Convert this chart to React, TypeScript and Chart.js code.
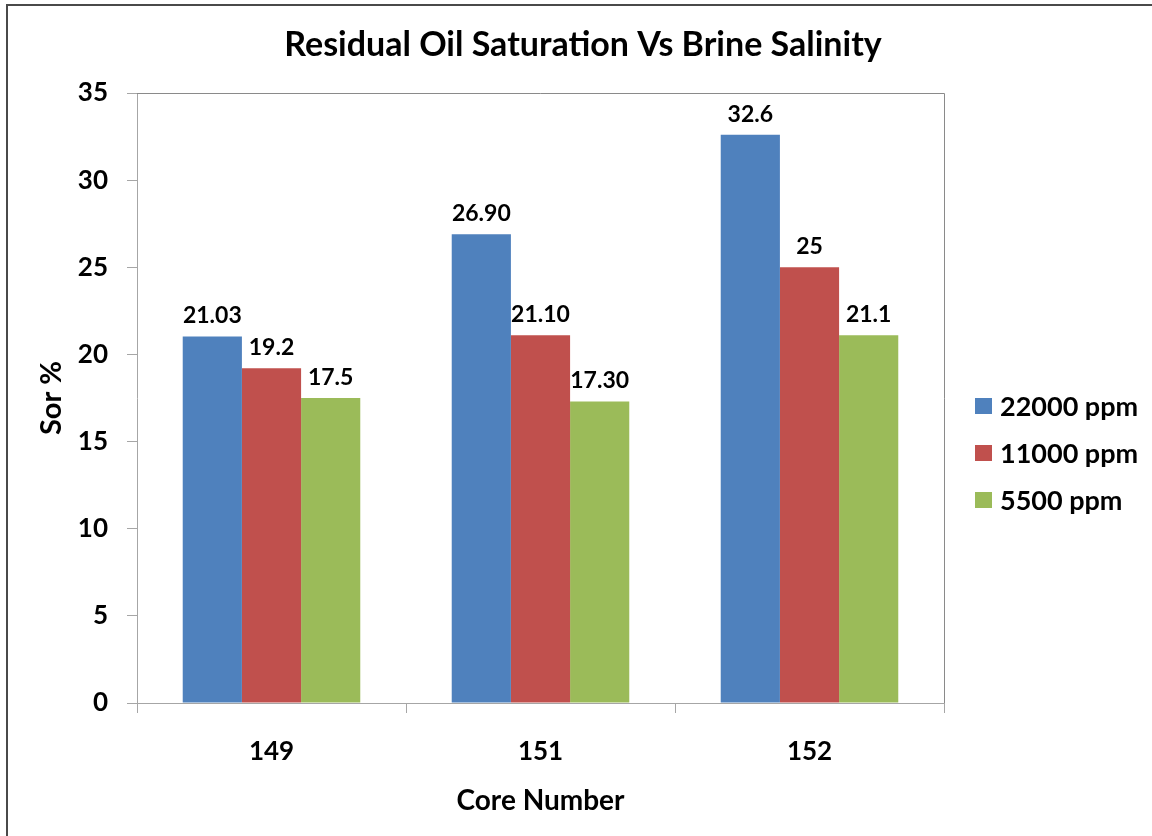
import React, { useEffect, useRef } from "react";
import { Chart, registerables } from "chart.js";

Chart.register(...registerables);

const categories = ["149", "151", "152"];
const seriesNames = ["22000 ppm", "11000 ppm", "5500 ppm"];
const sor22000 = [21.03, 26.9, 32.6];
const sor11000 = [19.2, 21.1, 25];
const sor5500 = [17.5, 17.3, 21.1];
const labels22000 = ["21.03", "26.90", "32.6"];
const labels11000 = ["19.2", "21.10", "25"];
const labels5500 = ["17.5", "17.30", "21.1"];
const yTicks = [0, 5, 10, 15, 20, 25, 30, 35];

const colors = ["#4F81BD", "#C0504D", "#9BBB59"];
const FONT = "Lato, 'Open Sans', sans-serif";
const W = 1152;
const H = 836;

const valueLabels = [labels22000, labels11000, labels5500];

// Frame, plot-area border, value labels, title and legend.
const decorations = {
  id: "decorations",
  beforeDatasetsDraw(chart: any) {
    const { ctx, chartArea } = chart;
    ctx.save();
    ctx.strokeStyle = "#8a8a8a";
    ctx.lineWidth = 1;
    ctx.beginPath();
    ctx.moveTo(chartArea.left, chartArea.top + 0.5);
    ctx.lineTo(chartArea.right + 0.5, chartArea.top + 0.5);
    ctx.lineTo(chartArea.right + 0.5, chartArea.bottom);
    ctx.stroke();
    ctx.restore();
  },
  afterDraw(chart: any) {
    const { ctx } = chart;
    ctx.save();
    // outer frame
    ctx.strokeStyle = "#4a4a4a";
    ctx.lineWidth = 2;
    ctx.strokeRect(7, 5, W, H);

    // value labels above bars
    ctx.fillStyle = "#000";
    ctx.font = `bold 23px ${FONT}`;
    ctx.textAlign = "center";
    ctx.textBaseline = "alphabetic";
    chart.data.datasets.forEach((_: any, di: number) => {
      const meta = chart.getDatasetMeta(di);
      meta.data.forEach((bar: any, i: number) => {
        ctx.fillText(valueLabels[di][i], bar.x, bar.y - 13);
      });
    });

    // title
    ctx.font = `bold 34px ${FONT}`;
    ctx.fillText("Residual Oil Saturation Vs Brine Salinity", 583, 56);

    // legend
    ctx.font = `bold 27px ${FONT}`;
    ctx.textAlign = "left";
    ctx.textBaseline = "middle";
    seriesNames.forEach((name, i) => {
      const cy = 406 + i * 47;
      ctx.fillStyle = colors[i];
      ctx.fillRect(975, cy - 8, 17, 16);
      ctx.fillStyle = "#000";
      ctx.fillText(name, 1000, cy + 1);
    });
    ctx.restore();
  },
};

export default function App() {
  const canvasRef = useRef<HTMLCanvasElement | null>(null);

  useEffect(() => {
    const canvas = canvasRef.current;
    if (!canvas) return;
    const chart = new Chart(canvas, {
      type: "bar",
      data: {
        labels: categories,
        datasets: [
          { label: seriesNames[0], data: sor22000, backgroundColor: colors[0] },
          { label: seriesNames[1], data: sor11000, backgroundColor: colors[1] },
          { label: seriesNames[2], data: sor5500, backgroundColor: colors[2] },
        ],
      },
      options: {
        responsive: false,
        animation: false,
        layout: { padding: { top: 93, right: 208, bottom: 0, left: 0 } },
        plugins: {
          legend: { display: false },
          title: { display: false },
          tooltip: { enabled: false },
        },
        datasets: {
          bar: { categoryPercentage: 0.66, barPercentage: 1 },
        },
        scales: {
          x: {
            afterFit(scale: any) {
              scale.height = 133;
            },
            grid: {
              offset: true,
              drawOnChartArea: false,
              drawTicks: true,
              tickLength: 10,
              color: "#a6a6a6",
            },
            border: { display: true, color: "#a6a6a6" },
            ticks: {
              color: "#000",
              padding: 23,
              font: { family: FONT, size: 26, weight: "bold" },
            },
            title: {
              display: true,
              text: "Core Number",
              color: "#000",
              padding: { top: 0, bottom: 18 },
              font: { family: FONT, size: 28, weight: "bold" },
            },
          },
          y: {
            min: 0,
            max: 35,
            afterFit(scale: any) {
              scale.width = 137;
            },
            afterBuildTicks(scale: any) {
              scale.ticks = yTicks.map((v) => ({ value: v }));
            },
            grid: {
              drawOnChartArea: false,
              drawTicks: true,
              tickLength: 10,
              color: "#a6a6a6",
            },
            border: { display: true, color: "#a6a6a6" },
            ticks: {
              color: "#000",
              padding: 19,
              font: { family: FONT, size: 26, weight: "bold" },
            },
            title: {
              display: true,
              text: "Sor %",
              color: "#000",
              padding: { top: 34, bottom: 0 },
              font: { family: FONT, size: 29, weight: "bold" },
            },
          },
        },
      },
      plugins: [decorations],
    });
    return () => chart.destroy();
  }, []);

  return (
    <div style={{ position: "absolute", left: 0, top: 0, width: W, height: H, background: "#fff" }}>
      <canvas ref={canvasRef} width={W} height={H} style={{ display: "block" }} />
    </div>
  );
}
